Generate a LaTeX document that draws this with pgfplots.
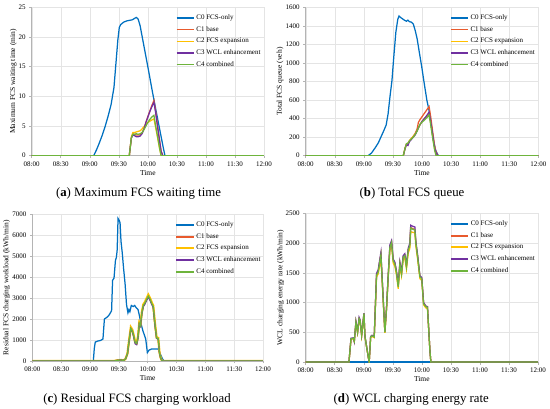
\documentclass[border=0pt]{standalone}
\usepackage{fontspec}
\setmainfont{Liberation Serif}
\usepackage{pgfplots}
\usepackage{pgfplotstable}
\pgfplotsset{compat=1.18}
\definecolor{cz}{RGB}{0,112,192}
\definecolor{cone}{RGB}{232,90,45}
\definecolor{ctwo}{RGB}{255,192,0}
\definecolor{cthree}{RGB}{112,48,160}
\definecolor{cfour}{RGB}{110,180,60}
\definecolor{gridgray}{RGB}{228,228,228}
\definecolor{axgray}{RGB}{180,180,180}

\pgfplotsset{
 myax/.style={
  scale only axis,
  xmin=0,xmax=240, xtick={0,30,...,240},
  xticklabels={08:00,08:30,09:00,09:30,10:00,10:30,11:00,11:30,12:00},
  axis x line*=bottom, axis y line*=left,
  axis line style={draw=axgray,line width=0.6pt},
  tick align=outside, major tick length=2.5pt,
  tick style={axgray,line width=0.5pt},
  grid=major, grid style={gridgray,line width=0.4pt},
  ticklabel style={font=\fontsize{7}{8}\selectfont},
  /pgf/number format/assume math mode=true,
  /pgf/number format/1000 sep={},
  scaled y ticks=false,
  label style={font=\fontsize{7.5}{9}\selectfont},
  xlabel={Time},
  xlabel style={at={(axis description cs:0.5,0)},anchor=center,yshift=-17.5pt},
  legend style={at={(0.607,0.978)},anchor=north west,draw=none,fill=none,
    font=\fontsize{7}{8}\selectfont,row sep=1.4pt},
  legend cell align=left,
  legend image post style={line width=1.4pt},
  every axis plot/.append style={line width=1.25pt},
 }
}

\pgfplotstableread{
t c1 c2 c3 c4
0 0 0 0 0
100.8 0 0 0 0
103 3.0 3.2 3.0 3.0
104.5 3.7 3.9 3.5 3.6
106 3.6 3.9 3.4 3.6
108 3.5 4.0 3.2 3.7
110 3.5 4.1 3.2 3.6
112 3.5 4.2 3.3 3.7
114 3.8 4.5 3.7 3.9
116 4.5 4.9 4.5 4.4
118 5.6 5.3 5.6 5.0
120 6.6 5.6 6.5 5.6
122 7.5 5.8 7.4 6.1
124 8.4 6.0 8.2 6.5
126.3 9.3 6.2 9.0 6.8
128 7.6 4.8 7.3 5.1
130 5.1 3.1 4.9 3.3
132 2.7 1.3 2.6 1.4
133.7 0.8 0 0.7 0
135.5 0 0 0 0
240 0 0 0 0
}\tabA

\pgfplotstableread{
t c1 c2 c3 c4
0 0 0 0 0
100.7 0 0 0 0
102.5 80 80 75 80
104 125 125 120 130
105.5 130 130 110 135
107 160 160 150 160
109 185 185 175 180
111 210 210 200 200
113 240 235 225 230
115 290 275 270 265
116.3 360 300 300 300
118 390 335 335 340
120 420 370 370 360
122 450 395 395 380
124 480 415 420 400
126 510 435 450 420
127.3 530 455 470 440
129 420 350 370 330
131 260 210 230 190
133 110 80 90 60
134.5 40 10 30 0
136.5 0 0 0 0
240 0 0 0 0
}\tabB

\pgfplotstableread{
t c1 c2 c3 c4
0 0 0 0 0
85 0 0 0 0
88 30 30 30 30
92 50 50 50 50
95 30 30 30 30
97 100 100 100 100
99 350 360 340 350
100.5 900 920 880 900
102.5 1560 1610 1530 1560
104 1450 1500 1420 1450
105.5 1200 1230 1160 1200
107 880 900 820 880
108.6 830 860 780 830
110 1150 1180 1100 1150
111.3 1800 1830 1760 1800
112.5 1700 1740 1660 1700
114 2300 2340 2260 2300
115.5 2650 2700 2600 2650
117 2750 2800 2700 2750
119 2950 3000 2900 2950
120.7 3100 3160 3050 3100
122.5 2950 3000 2900 2950
124.2 2750 2800 2700 2750
125.8 2600 2650 2550 2600
127.5 1800 1850 1750 1800
129.3 1100 1130 1080 1100
131 1080 1100 1050 1080
132.3 400 420 380 400
133.5 150 160 140 150
135 0 0 0 0
240 0 0 0 0
}\tabC

\pgfplotstableread{
t c1 c2 c3 c4
0 0 0 0 0
44.7 0 0 0 0
46.8 390 380 400 390
49.2 400 390 405 400
50.2 350 340 340 350
51.9 670 650 680 670
53.6 500 490 510 500
55.2 730 710 750 730
56.2 700 680 710 700
57.8 450 440 460 450
60.2 815 800 820 815
61.2 430 420 440 430
63 250 240 250 250
64.6 90 90 90 90
65.6 0 0 0 0
67.1 420 410 430 420
68.5 440 430 450 440
70.8 420 410 430 420
73.2 1470 1430 1490 1460
74.9 1520 1480 1550 1510
76.7 1720 1650 1740 1700
77.7 1810 1740 1840 1800
78.4 1590 1540 1610 1580
80.1 1050 1010 1060 1040
81.8 500 490 510 500
83.5 900 880 910 900
85.2 1440 1400 1450 1430
87 1940 1880 1970 1930
88.7 2020 1960 2040 2010
90.4 1710 1660 1730 1700
92.1 1660 1610 1680 1650
93.8 1510 1460 1530 1500
95.6 1270 1230 1290 1260
97.3 1660 1610 1680 1650
99 1490 1450 1510 1480
100.7 1770 1720 1790 1760
102.4 1800 1750 1820 1790
104.1 1610 1560 1630 1600
105.9 1890 1830 1910 1880
107.6 1970 1910 2000 1960
108.5 2260 2190 2300 2250
110.8 2240 2180 2280 2230
112.8 2230 2170 2270 2220
113.8 2010 1950 2030 2000
115.6 1780 1730 1800 1770
118 1440 1400 1450 1430
119.9 1410 1370 1420 1400
121.8 990 960 1000 980
124.1 940 910 940 930
125.8 930 900 930 920
128.3 200 200 200 200
129.3 0 0 0 0
240 0 0 0 0
}\tabD

\begin{document}
\begin{tikzpicture}
\useasboundingbox (0pt,0pt) rectangle (550pt,-409pt);

% (a)
\begin{axis}[myax, at={(31.7pt,-155.7pt)}, anchor=south west,
  width=232.3pt, height=148.4pt, ymin=0, ymax=25, ytick={0,5,...,25},
  ylabel={Maximum FCS waiting time (min)},
  ylabel style={at={(axis description cs:-0.079,0.5)},anchor=center}]
\addplot[color=cz] coordinates {(0,0) (64,0) (67,1.0) (70,2.2) (73,3.5) (76,5.0) (79,6.7) (82,8.6) (85,11.5) (87,15.5) (89,19.5) (90.5,21.6) (92,22.1) (95,22.5) (98,22.7) (101,22.8) (104,22.9) (106,23.1) (108,23.3) (110,23.0) (112,21.9) (115,19.3) (118,16.7) (121,14.1) (124,11.4) (127,8.8) (130,6.3) (133,3.8) (136,1.3) (137.7,0) (240,0)};
\addplot[color=cone] table[x index=0,y index=1]{\tabA};
\addplot[color=ctwo] table[x index=0,y index=2]{\tabA};
\addplot[color=cthree] table[x index=0,y index=3]{\tabA};
\addplot[color=cfour] table[x index=0,y index=4]{\tabA};
\legend{C0 FCS-only, C1 base, C2 FCS expansion, C3 WCL enhancement, C4 combined}
\end{axis}

% (b)
\begin{axis}[myax, at={(305.7pt,-155.7pt)}, anchor=south west,
  width=232.6pt, height=148.4pt, ymin=0, ymax=1600, ytick={0,200,...,1600},
  ylabel={Total FCS queue (veh)},
  ylabel style={at={(axis description cs:-0.110,0.5)},anchor=center}]
\addplot[color=cz] coordinates {(0,0) (64.5,0) (68,30) (72,90) (75,140) (78,210) (81,280) (83,330) (85,450) (87,640) (89,810) (91,1080) (93,1330) (95,1470) (96.3,1506) (98,1490) (100,1475) (102,1460) (104,1450) (105.5,1462) (107,1445) (109,1440) (111,1420) (113,1350) (115,1260) (117,1130) (119.7,960) (122,800) (125,600) (127.2,493) (129.5,330) (131.7,170) (134,60) (136.8,0) (240,0)};
\addplot[color=cone] table[x index=0,y index=1]{\tabB};
\addplot[color=ctwo] table[x index=0,y index=2]{\tabB};
\addplot[color=cthree] table[x index=0,y index=3]{\tabB};
\addplot[color=cfour] table[x index=0,y index=4]{\tabB};
\legend{C0 FCS-only, C1 base, C2 FCS expansion, C3 WCL enhancement, C4 combined}
\end{axis}

% (c)
\begin{axis}[myax, at={(32.3pt,-361pt)}, anchor=south west,
  width=230.7pt, height=146.7pt, ymin=0, ymax=7000, ytick={0,1000,...,7000},
  ylabel={Residual FCS charging workload (kWh/min)},
  ylabel style={at={(axis description cs:-0.111,0.5)},anchor=center},
  legend image post style={line width=1.8pt}]
\addplot[color=cz] coordinates {(0,0) (63.5,0) (64.5,600) (65.5,900) (68,950) (71,980) (73.5,1050) (75,2000) (78,2100) (80,2200) (82.5,2400) (83.5,3850) (85,3950) (86.5,4800) (87.5,4950) (88.3,5300) (89.2,6800) (90.5,6700) (91.3,6600) (92.3,5700) (93.5,5200) (95,4400) (96.5,3700) (98,2700) (99.5,2300) (100.5,2450) (101.5,2350) (103,2650) (105,2600) (106.5,2650) (108,2550) (110,2450) (111.5,2150) (113,1800) (115,1450) (116.5,1250) (118,1050) (119.7,400) (121.5,520) (124,570) (128,570) (131,570) (132.5,400) (134,250) (135.5,100) (137,0) (240,0)};
\addplot[color=cone] table[x index=0,y index=1]{\tabC};
\addplot[color=ctwo,line width=2.2pt] table[x index=0,y index=2]{\tabC};
\addplot[color=cthree] table[x index=0,y index=3]{\tabC};
\addplot[color=cfour] table[x index=0,y index=4]{\tabC};
\legend{C0 FCS-only, C1 base, C2 FCS expansion, C3 WCL enhancement, C4 combined}
\end{axis}

% (d)
\begin{axis}[myax, at={(305.7pt,-362pt)}, anchor=south west,
  width=232.3pt, height=148.7pt, ymin=0, ymax=2500, ytick={0,500,...,2500},
  ylabel={WCL charging energy rate (kWh/min)},
  ylabel style={at={(axis description cs:-0.108,0.5)},anchor=center},
  legend image post style={line width=1.8pt}]
\addplot[color=cz] coordinates {(0,0) (240,0)};
\addplot[color=cone] table[x index=0,y index=1]{\tabD};
\addplot[color=ctwo] table[x index=0,y index=2]{\tabD};
\addplot[color=cthree] table[x index=0,y index=3]{\tabD};
\addplot[color=cfour] table[x index=0,y index=4]{\tabD};
\legend{C0 FCS-only, C1 base, C2 FCS expansion, C3 WCL enhancement, C4 combined}
\end{axis}

\node[font=\fontsize{12.8}{15}\selectfont] at (138.5pt,-193.3pt) {(\textbf{a}) Maximum FCS waiting time};
\node[font=\fontsize{12.8}{15}\selectfont] at (412pt,-193.3pt) {(\textbf{b}) Total FCS queue};
\node[font=\fontsize{12.8}{15}\selectfont] at (137pt,-399pt) {(\textbf{c}) Residual FCS charging workload};
\node[font=\fontsize{12.8}{15}\selectfont] at (411.3pt,-399pt) {(\textbf{d}) WCL charging energy rate};
\end{tikzpicture}
\end{document}
